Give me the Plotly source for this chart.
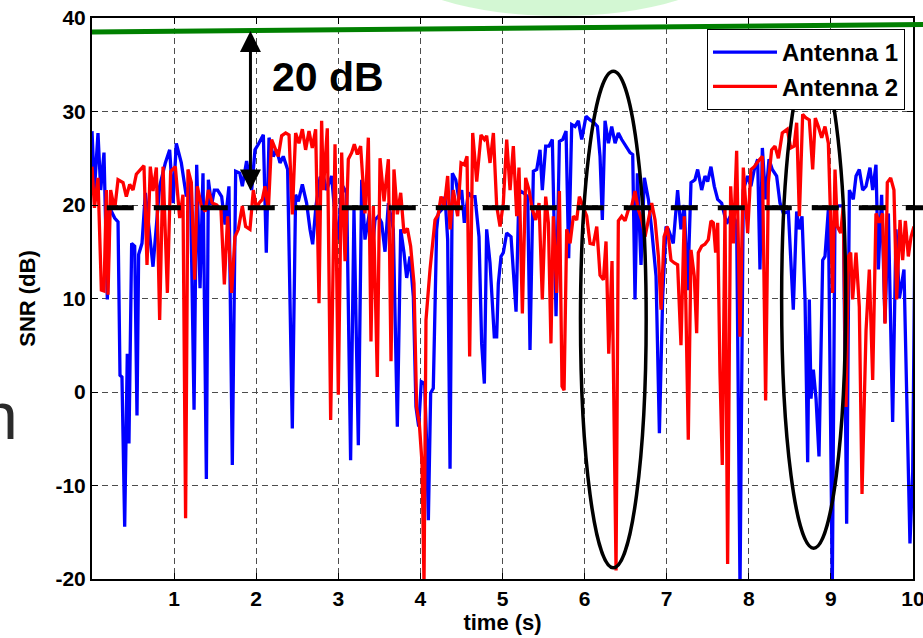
import plotly.graph_objects as go

# ---------------- data ----------------
t_ant1 = [0.0, 0.03, 0.073, 0.106, 0.146, 0.187, 0.215, 0.276, 0.317, 0.341, 0.365, 0.398, 0.43, 0.45, 0.483, 0.52, 0.548, 0.568, 0.609, 0.65,
          0.743, 0.824, 0.893, 0.946, 0.987, 1.027, 1.088, 1.149, 1.198, 1.243, 1.275, 1.316, 1.352, 1.393,
          1.417, 1.457, 1.49, 1.53, 1.579, 1.62, 1.668, 1.709, 1.75, 1.8, 1.831, 1.883, 1.945, 1.985, 2.026, 2.087, 2.123, 2.156, 2.208, 2.249,
          2.29, 2.33, 2.383, 2.44, 2.48, 2.513, 2.562, 2.614, 2.655, 2.688, 2.728, 2.777,
          2.818, 2.858, 2.919, 2.96, 3.0, 3.041, 3.102, 3.15, 3.191, 3.244, 3.285, 3.325, 3.378, 3.406, 3.447, 3.488, 3.528, 3.569, 3.61, 3.67,
          3.719, 3.76, 3.8, 3.833, 3.873, 3.914, 3.946, 3.979, 4.011, 4.052, 4.076, 4.097, 4.125, 4.157, 4.198,
          4.218, 4.259, 4.3, 4.332, 4.361, 4.389, 4.43, 4.47, 4.503, 4.535, 4.584, 4.625, 4.665, 4.714, 4.746, 4.779, 4.807, 4.848, 4.876, 4.9,
          4.929, 4.949, 4.982, 5.01, 5.051, 5.104, 5.165, 5.201, 5.254, 5.307, 5.335, 5.376, 5.417, 5.457, 5.485, 5.526, 5.567,
          5.607, 5.652, 5.693, 5.733, 5.774, 5.806, 5.843, 5.883, 5.924, 5.965, 6.017, 6.066, 6.115, 6.156, 6.188, 6.216, 6.249, 6.29, 6.33, 6.371,
          6.411, 6.452, 6.505, 6.553, 6.586, 6.614, 6.643, 6.687, 6.728, 6.777, 6.817, 6.87, 6.911, 6.951, 6.992,
          7.02, 7.08, 7.133, 7.174, 7.214, 7.255, 7.296, 7.344, 7.377, 7.426, 7.466, 7.499, 7.539, 7.58, 7.621, 7.669, 7.73, 7.791, 7.852, 7.893,
          7.933, 7.986, 8.026, 8.067, 8.108, 8.136, 8.165, 8.205, 8.246, 8.286, 8.339, 8.38,
          8.421, 8.482, 8.542, 8.583, 8.616, 8.648, 8.685, 8.717, 8.737, 8.758, 8.786, 8.819, 8.855, 8.9, 8.928, 8.969, 9.017, 9.05, 9.091, 9.151,
          9.192, 9.225, 9.273, 9.306, 9.346, 9.387, 9.428, 9.476, 9.509, 9.549, 9.578, 9.618, 9.659, 9.7, 9.752, 9.793, 9.834, 9.89, 9.923, 9.963,
          9.996, 10.02]
snr_ant1 = [27.9, 21.6, 27.7, 21.6, 25.6, 9.9, 19.7, 18.6, 18.2, 1.8, 1.6, -14.4, 4.1, -5.5, 15.9, 15.6, -2.5, 14.7, 15.9, 21.3,
            13.4, 22.0, 24.5, 25.9, 20.2, 26.6, 24.5, 20.9, 22.7, -1.9, 24.3, 11.1, 23.4, -9.3,
            22.7, 20.0, 21.6, 21.6, 20.9, 17.9, 22.0, -7.8, 23.6, 23.4, 22.0, 24.7, 21.6, 25.9, 26.5, 27.5, 14.9, 27.2, 25.2, 25.9,
            24.5, 25.2, 23.8, -3.9, 21.1, 20.4, 22.2, 20.2, 17.4, 15.8, 19.9, 22.9,
            23.1, 21.6, 23.1, 18.8, 16.3, 22.2, 21.3, -7.3, 19.5, -5.7, 22.7, 16.3, 19.1, 14.3, 18.4, 18.8, 18.1, 15.0, 20.2, 17.4,
            -3.7, 17.4, 14.9, 12.2, 14.5, 10.2, -1.6, -3.7, 1.1, 0.9, -5.5, -13.7, -0.1, 0.4, 17.4,
            19.1, 19.5, 20.9, 16.3, -8.2, 23.4, 22.7, 20.6, 21.6, 18.1, 21.3, 20.9, 20.9, 16.6, 5.2, 0.9, 17.4, 13.8, 10.2, 5.9,
            5.9, 11.6, 14.5, 14.9, 17.0, 16.6, 8.6, 21.6, 21.3, 20.9, 4.5, 23.6, 23.8, 25.9, 21.6, 26.3, 26.3,
            27.0, 8.1, 26.8, 27.0, 27.9, 14.3, 28.6, 28.4, 29.0, 27.0, 29.5, 29.1, 28.8, 28.4, 25.2, 18.4, 29.0, 26.6, 28.4, 26.6,
            27.7, 27.0, 26.3, 25.6, 25.4, 9.9, 23.4, 13.6, 22.9, 20.6, 17.4, 12.4, -4.4, 10.2, 17.7,
            17.4, 15.9, 21.6, 17.4, 20.0, 10.9, 22.4, 22.7, 23.8, 21.6, 23.1, 22.5, 24.1, 22.0, 20.6, 20.2, 18.0, 19.1, 18.1, -21.0,
            21.6, 23.1, 22.0, 23.8, 24.9, 13.1, 26.1, 20.6, 24.9, 23.8, 23.1, 20.2,
            19.1, 19.3, 8.8, 19.3, 17.4, 18.8, 9.9, -7.5, 9.9, -0.7, 2.4, -0.7, -6.9, 14.1, 14.5, 19.5, -21.0, 19.5, 19.9, 19.9,
            -14.1, 21.6, 20.6, 23.1, 23.8, 21.6, 22.0, 24.0, 21.6, 24.3, 13.1, 21.1, 7.4, 19.1, -3.2, 17.4, 10.0, 13.1, 1.3, -16.2,
            -8.7, 13.4]

t_ant2 = [0.0, 0.03, 0.073, 0.114, 0.146, 0.175, 0.195, 0.227, 0.276, 0.317, 0.378, 0.418, 0.459, 0.5, 0.54, 0.593, 0.633, 0.67, 0.71, 0.743,
          0.784, 0.824, 0.865, 0.918, 0.958, 1.015, 1.068, 1.108, 1.14, 1.169, 1.21, 1.25, 1.283, 1.332, 1.38,
          1.417, 1.465, 1.518, 1.571, 1.612, 1.652, 1.701, 1.741, 1.782, 1.831, 1.871, 1.924, 1.965, 2.005, 2.034, 2.075, 2.107, 2.148, 2.188, 2.229,
          2.269, 2.31, 2.359, 2.4, 2.44, 2.48, 2.521, 2.562, 2.602, 2.643, 2.683, 2.724, 2.765, 2.797,
          2.818, 2.866, 2.907, 2.96, 3.0, 3.041, 3.082, 3.122, 3.163, 3.195, 3.232, 3.272, 3.325, 3.366, 3.398, 3.427, 3.475, 3.508, 3.557, 3.61,
          3.642, 3.678, 3.719, 3.76, 3.8, 3.841, 3.881, 3.922, 3.954, 3.987, 4.02, 4.044, 4.068, 4.117, 4.178, 4.218,
          4.251, 4.292, 4.332, 4.361, 4.401, 4.454, 4.495, 4.535, 4.568, 4.6, 4.637, 4.686, 4.738, 4.779, 4.807, 4.848, 4.889, 4.929, 4.97, 5.01,
          5.051, 5.092, 5.132, 5.173, 5.201, 5.242, 5.282, 5.323, 5.364, 5.404, 5.445, 5.485, 5.526, 5.559, 5.59,
          5.619, 5.66, 5.693, 5.725, 5.75, 5.782, 5.823, 5.863, 5.904, 5.936, 5.977, 6.026, 6.066, 6.107, 6.148, 6.188, 6.229, 6.261, 6.294, 6.334,
          6.383, 6.411, 6.452, 6.493, 6.533, 6.574, 6.614, 6.655, 6.696, 6.736, 6.777, 6.817, 6.858, 6.899, 6.931, 6.968, 7.008,
          7.052, 7.093, 7.133, 7.174, 7.214, 7.263, 7.296, 7.336, 7.365, 7.385, 7.426, 7.466, 7.507, 7.539, 7.568, 7.596, 7.621, 7.649, 7.677, 7.71,
          7.742, 7.779, 7.812, 7.852, 7.893, 7.933, 7.986, 8.026, 8.067, 8.116, 8.165, 8.205, 8.238, 8.278, 8.319, 8.36, 8.408,
          8.469, 8.51, 8.551, 8.583, 8.616, 8.656, 8.697, 8.737, 8.778, 8.81, 8.847, 8.888, 8.928, 8.969, 8.997, 9.021, 9.05, 9.078, 9.119, 9.151,
          9.184, 9.212, 9.241, 9.265, 9.306, 9.346, 9.379, 9.428, 9.468, 9.509, 9.549, 9.59, 9.63, 9.659, 9.687, 9.728, 9.768, 9.801, 9.842, 9.874,
          9.907, 9.943, 9.976, 10.012]
snr_ant2 = [24.1, 19.7, 22.9, 10.9, 10.8, 21.6, 10.4, 21.6, 19.5, 22.7, 22.4, 20.9, 22.2, 21.6, 23.3, 23.8, 24.2, 13.6, 24.1, 21.5,
            24.0, 7.7, 24.1, 10.6, 23.6, 24.1, 18.6, 21.1, -13.5, 23.8, 22.4, 12.0, 22.0, 19.9, 19.3,
            21.6, 20.2, 20.0, 19.5, 11.5, 18.8, 10.6, 16.6, 17.4, 19.9, 17.7, 17.4, 21.6, 19.5, 20.2, 20.6, 22.0, 19.5, 27.0, 26.1,
            25.2, 27.4, 27.7, 27.5, 19.0, 27.7, 26.6, 28.1, 25.9, 27.9, 26.1, 28.1, 9.5, 29.0,
            21.6, 28.2, -3.0, 26.5, -0.3, 25.6, 14.0, 24.9, 25.6, 26.5, 25.4, 26.3, 19.1, 27.2, 5.4, 19.9, 1.6, 25.0, 20.4, 24.9,
            3.3, 23.8, 19.0, 21.3, 17.0, 17.5, 15.6, 11.6, -1.6, -3.4, -7.6, -20.5, 7.7, 13.1, 18.4, 19.0,
            20.9, 19.9, 23.1, 17.4, 21.6, 18.8, 24.5, 24.3, 25.2, 3.8, 27.7, 22.5, 27.5, 27.0, 27.4, 24.5, 27.7, 19.9, 17.7, 20.2,
            27.0, 21.6, 26.3, 18.8, 24.0, 8.4, 22.9, 21.6, 19.5, 18.4, 20.2, 9.9, 20.9, 18.1, 5.2,
            18.8, 10.6, 21.5, 0.6, 0.2, 17.4, 15.9, 18.8, 18.4, 20.9, 19.9, 18.8, 15.9, 15.8, 17.7, 12.5, 12.0, 16.1, 4.1, 14.0,
            -19.1, 18.3, 18.8, 18.3, 19.5, 19.9, 21.5, 19.5, 18.4, 16.6, 18.4, 20.2, 18.4, 14.5, 8.8, 16.6, 17.7,
            14.1, 13.8, 13.6, 5.0, 18.8, -5.1, 15.2, 12.4, 6.3, 14.9, 15.6, 15.8, 16.3, 18.3, 18.1, 14.9, 18.1, 2.0, -7.8, 19.5,
            -18.4, 22.0, 15.9, 25.8, 5.9, 24.0, 17.0, 23.8, 24.1, 24.7, 25.2, -0.9, 22.4, 25.9, 26.3, 25.0, 27.7,
            28.1, 26.1, 26.3, 28.8, 18.8, 29.7, 29.3, 29.1, 23.8, 29.3, 28.4, 27.2, 28.4, 26.6, 18.4, 10.6, 23.8, 17.7, 17.0, 19.9,
            -1.6, 14.5, 14.9, 9.9, 14.9, 9.1, -10.9, 6.6, 13.1, 1.3, 19.1, 18.1, 19.1, 7.3, 22.4, 22.9, 21.6, 9.9, 18.4, 14.1,
            18.3, 14.5, 16.6, 17.7]

x_ticks = [1, 2, 3, 4, 5, 6, 7, 8, 9, 10]
y_ticks = [-20, -10, 0, 10, 20, 30, 40]
y_tick_labels = ["-20", "-10", "0", "10", "20", "30", "40"]

reference_snr = [38.5, 39.3]      # green line, left end / right end (dB)
threshold_snr = 19.7              # black dashed threshold (dB)
threshold_start_t = 0.18
arrow_t = 1.93
arrow_span = [21.4, 38.6]
label_text = "20 dB"
label_pos = [2.17, 33.7]
# ellipses: centre time, half-width (s), bottom dB, top dB
ellipse_t = [6.35, 8.79]
ellipse_halfwidth = [0.40, 0.39]
ellipse_low = [-18.8, -16.7]
ellipse_high = [34.3, 36.4]

FONT = "Liberation Sans, Arial, sans-serif"

fig = go.Figure()
fig.add_trace(go.Scatter(x=t_ant1, y=snr_ant1, mode="lines", name="Antenna 1",
                         line=dict(color="#0000ff", width=3.3)))
fig.add_trace(go.Scatter(x=t_ant2, y=snr_ant2, mode="lines", name="Antenna 2",
                         line=dict(color="#ff0000", width=3.3)))

# plot area geometry (pixels)
L, R, T, B = 92, 10, 18, 59
W, H = 923, 638
pw = W - L - R
ph = H - T - B
right_edge_paper = (W - L) / pw

shapes = []
# green reference line (runs slightly past the right frame, as in the reference)
shapes.append(dict(type="line", xref="paper", yref="y", x0=0, x1=right_edge_paper,
                   y0=reference_snr[0], y1=reference_snr[1],
                   line=dict(color="#008000", width=5), layer="above"))
# dashed threshold
shapes.append(dict(type="line", xref="paper", yref="y", x0=threshold_start_t / 10.0, x1=right_edge_paper,
                   y0=threshold_snr, y1=threshold_snr,
                   line=dict(color="black", width=5, dash="27px,20px"), layer="above"))
# ellipses
for c, hw, lo, hi in zip(ellipse_t, ellipse_halfwidth, ellipse_low, ellipse_high):
    shapes.append(dict(type="circle", xref="x", yref="y", x0=c - hw, x1=c + hw, y0=lo, y1=hi,
                       line=dict(color="black", width=3.5), layer="above"))
# light green blob from slide background above the axes
shapes.append(dict(type="circle", xref="paper", yref="paper",
                   x0=(395 - L) / pw, x1=(725 - L) / pw,
                   y0=1 - (16 - T) / ph, y1=1 - (-90 - T) / ph,
                   fillcolor="#cef6ce", line=dict(width=0), opacity=0.9, layer="below"))

annotations = [
    dict(x=arrow_t, y=arrow_span[1], ax=arrow_t, ay=arrow_span[0], xref="x", yref="y",
         axref="x", ayref="y", text="", showarrow=True, arrowhead=2, startarrowhead=2,
         arrowside="end+start", arrowwidth=3, arrowsize=1.4, startarrowsize=1.4, arrowcolor="black"),
    dict(x=label_pos[0], y=label_pos[1], xref="x", yref="y", text=label_text, showarrow=False,
         xanchor="left", yanchor="middle",
         font=dict(family=FONT, size=41, color="black", weight="bold")),
    # cropped slide letter at far left
    dict(x=(20 - L) / pw, y=1 - (416 - T) / ph, xref="paper", yref="paper", text="n",
         showarrow=False, xanchor="right", yanchor="middle",
         font=dict(family=FONT, size=66, color="#2b2b2b")),
]

axis_common = dict(showline=True, linecolor="black", linewidth=2, mirror="ticks",
                   ticks="inside", ticklen=6, tickwidth=1, tickcolor="black",
                   showgrid=True, gridcolor="#4d4d4d", gridwidth=1, griddash="6px,4px",
                   zeroline=False, automargin=False, ticklabeloverflow="allow",
                   tickfont=dict(family=FONT, size=21, color="black", weight="bold"))

fig.update_layout(
    width=W, height=H,
    margin=dict(l=L, r=R, t=T, b=B, autoexpand=False),
    paper_bgcolor="white", plot_bgcolor="white",
    xaxis=dict(range=[0, 10], tickvals=x_ticks, ticktext=[str(v) for v in x_ticks],
               title=dict(text="time (s)", standoff=4,
                          font=dict(family=FONT, size=22, color="black", weight="bold")),
               **axis_common),
    yaxis=dict(range=[-20, 40], tickvals=y_ticks, ticktext=y_tick_labels,
               title=dict(text="SNR (dB)", standoff=14,
                          font=dict(family=FONT, size=22, color="black", weight="bold")),
               **axis_common),
    legend=dict(x=(905 - L) / pw, xanchor="right", y=1 - (29 - T) / ph, yanchor="top",
                bgcolor="white", bordercolor="black", borderwidth=1,
                font=dict(family=FONT, size=24, color="black", weight="bold"),
                itemwidth=64, tracegroupgap=0),
    shapes=shapes,
    annotations=annotations,
    showlegend=True,
)

fig.write_html("out.html", config={"displayModeBar": False},
               post_script="document.body.style.margin='0';document.body.style.overflow='hidden';")
